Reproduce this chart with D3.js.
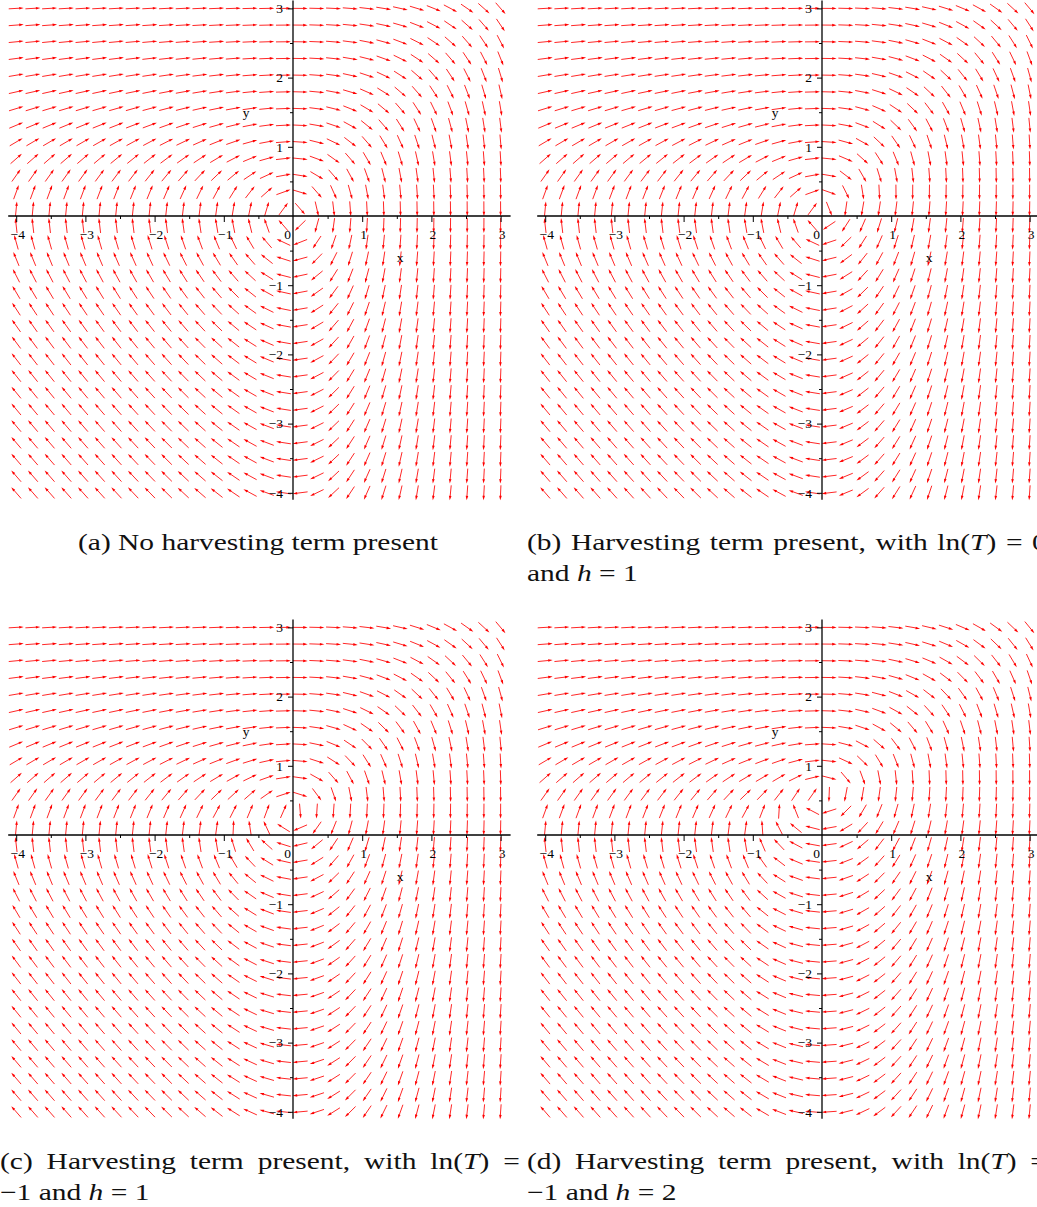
<!DOCTYPE html>
<html>
<head>
<meta charset="utf-8">
<script src="https://cdn.jsdelivr.net/npm/d3@7"></script>
<style>
  body { margin: 0; background: #fff; }
  svg { display: block; }
</style>
</head>
<body>
<div id="chart"></div>
<script>
// axis range and ticks (same for every panel)
var domainX = [-4, 3],
    domainY = [-4, 3];
var xTicks = [-4, -3, -2, -1, 1, 2, 3];
var yTicks = [-4, -3, -2, -1, 1, 2, 3];
var minorTicks = [-3.5, -2.5, -1.5, -0.5, 0.5, 1.5, 2.5];
var gridCount = 30; // arrows per row and per column

// the four panels and their harvesting parameters
var panelIds = ["a", "b", "c", "d"];
var lnT = [null, 0, -1, -1];
var hValues = [0, 1, 1, 2];
var harvestWeight = 0.6;
var yRate = 1.15;

// captions: lines made of [text, italic] pieces
var captions = [
  [ [["(a) No harvesting term present", 0]] ],
  [ [["(b) Harvesting term present, with ln(", 0], ["T", 1], [") = 0", 0]],
    [["and ", 0], ["h", 1], [" = 1", 0]] ],
  [ [["(c) Harvesting term present, with ln(", 0], ["T", 1], [") =", 0]],
    [["\u22121 and ", 0], ["h", 1], [" = 1", 0]] ],
  [ [["(d) Harvesting term present, with ln(", 0], ["T", 1], [") =", 0]],
    [["\u22121 and ", 0], ["h", 1], [" = 2", 0]] ]
];

// layout
var width = 1037, height = 1207;
var unit = 69.2;                       // pixels per unit on both axes
var origins = [[293, 216], [822, 216], [293, 835], [822, 835]];
var captionX = [78, 527, 0, 527];
var captionY = [550, 550, 1169, 1169];
var serif = "'Liberation Serif', 'Times New Roman', serif";

var svg = d3.select("#chart")
  .append("svg")
  .attr("width", width)
  .attr("height", height);

// predator/prey in log variables, harvesting switched on above ln(T)
function field(x, y, i) {
  var harvest = 0;
  if (hValues[i] > 0 && x > lnT[i]) harvest = harvestWeight * hValues[i] * (1 - Math.exp(lnT[i] - x));
  return [Math.exp(y) - 1 - harvest, yRate * (1 - Math.exp(x))];
}

var gridX = d3.range(gridCount).map(function(j) { return domainX[0] + j * (domainX[1] - domainX[0]) / (gridCount - 1); });
var gridY = d3.range(gridCount).map(function(j) { return domainY[0] + j * (domainY[1] - domainY[0]) / (gridCount - 1); });
var points = [];
gridX.forEach(function(gx) { gridY.forEach(function(gy) { points.push([gx, gy]); }); });

var arrowLen = 15, headLen = 4.5, headHalf = 1.3;

panelIds.forEach(function(id, i) {
  var ox = origins[i][0], oy = origins[i][1];
  var x = d3.scaleLinear().domain(domainX).range([ox + domainX[0] * unit, ox + domainX[1] * unit]);
  var y = d3.scaleLinear().domain(domainY).range([oy - domainY[0] * unit, oy - domainY[1] * unit]);

  var g = svg.append("g").attr("class", "panel-" + id);

  // unit direction of the field at each grid point, in pixels
  function dir(d) {
    var v = field(d[0], d[1], i);
    var dx = x(d[0] + v[0]) - x(d[0]),
        dy = y(d[1] + v[1]) - y(d[1]);
    var n = Math.sqrt(dx * dx + dy * dy) || 1;
    return [dx / n, dy / n];
  }

  var arrows = g.append("g")
    .selectAll("g")
    .data(points)
    .enter()
    .append("g");

  // shafts
  arrows.append("line")
    .attr("x1", function(d) { return x(d[0]) - dir(d)[0] * arrowLen / 2; })
    .attr("y1", function(d) { return y(d[1]) - dir(d)[1] * arrowLen / 2; })
    .attr("x2", function(d) { return x(d[0]) + dir(d)[0] * (arrowLen / 2 - headLen + 0.5); })
    .attr("y2", function(d) { return y(d[1]) + dir(d)[1] * (arrowLen / 2 - headLen + 0.5); })
    .style("stroke", "#ff0000")
    .style("stroke-width", 0.85);

  // heads
  arrows.append("path")
    .attr("d", function(d) {
      var u = dir(d);
      var hx = x(d[0]) + u[0] * arrowLen / 2, hy = y(d[1]) + u[1] * arrowLen / 2;
      var bx = hx - u[0] * headLen, by = hy - u[1] * headLen;
      return "M" + hx + "," + hy +
             "L" + (bx - u[1] * headHalf) + "," + (by + u[0] * headHalf) +
             "L" + (bx + u[1] * headHalf) + "," + (by - u[0] * headHalf) + "Z";
    })
    .style("fill", "#ff0000");

  // axis lines through the origin
  g.append("line")
    .attr("x1", x(domainX[0]) - 8).attr("x2", x(domainX[1]) + 10)
    .attr("y1", y(0)).attr("y2", y(0))
    .style("stroke", "#000").style("stroke-width", 1.3);
  g.append("line")
    .attr("x1", x(0)).attr("x2", x(0))
    .attr("y1", y(domainY[1]) - 8).attr("y2", y(domainY[0]) + 7)
    .style("stroke", "#000").style("stroke-width", 1.3);

  // minor ticks
  g.append("g")
    .attr("transform", "translate(0," + y(0) + ")")
    .call(d3.axisBottom(x).tickValues(minorTicks).tickSize(3).tickFormat(""))
    .call(function(a) { a.select(".domain").remove(); });
  g.append("g")
    .attr("transform", "translate(" + x(0) + ",0)")
    .call(d3.axisLeft(y).tickValues(minorTicks).tickSize(3).tickFormat(""))
    .call(function(a) { a.select(".domain").remove(); });

  // major ticks with labels
  var ax = g.append("g")
    .attr("transform", "translate(0," + y(0) + ")")
    .call(d3.axisBottom(x).tickValues(xTicks).tickSize(6).tickPadding(7).tickFormat(d3.format("d")));
  ax.select(".domain").remove();
  ax.attr("font-family", serif).attr("font-size", 13.5);
  ax.selectAll("text").attr("dx", 1);

  var ay = g.append("g")
    .attr("transform", "translate(" + x(0) + ",0)")
    .call(d3.axisLeft(y).tickValues(yTicks).tickSize(5).tickPadding(5).tickFormat(d3.format("d")));
  ay.select(".domain").remove();
  ay.attr("font-family", serif).attr("font-size", 13.5);

  g.append("text")
    .attr("x", x(0) - 2).attr("y", y(0) + 23)
    .attr("text-anchor", "end")
    .style("font-family", serif).style("font-size", "13.5px")
    .text("0");

  // axis titles
  g.append("text")
    .attr("x", x(0) + 107).attr("y", y(0) + 46)
    .attr("text-anchor", "middle")
    .style("font-family", serif).style("font-size", "13.5px")
    .text("x");
  g.append("text")
    .attr("x", x(0) - 47).attr("y", y(0) - 99)
    .attr("text-anchor", "middle")
    .style("font-family", serif).style("font-size", "13.5px")
    .text("y");
});

// captions (Computer Modern is wider than Times, so stretch horizontally)
var capScale = 1.0, capWidth = 520, lineGap = 31;
captions.forEach(function(lines, i) {
  lines.forEach(function(pieces, li) {
    var t = svg.append("text")
      .attr("x", 0).attr("y", 0)
      .style("font-family", serif)
      .style("font-size", "23px")
      .style("fill", "#111");
    pieces.forEach(function(p) {
      t.append("tspan")
        .style("font-style", p[1] ? "italic" : "normal")
        .text(p[0]);
    });
    var natural = t.node().getComputedTextLength();
    if (i === 0 && li === 0) capScale = 360 / natural;
    // first line of a two-line caption is justified to the column width
    if (lines.length > 1 && li === 0) {
      var spaces = pieces.map(function(p) { return p[0]; }).join("").split(" ").length - 1;
      var extra = (capWidth / capScale - natural) / spaces;
      t.style("word-spacing", extra + "px");
    }
    t.attr("transform", "translate(" + captionX[i] + "," + (captionY[i] + li * lineGap) + ") scale(" + capScale + ",1)");
  });
});
</script>
</body>
</html>
